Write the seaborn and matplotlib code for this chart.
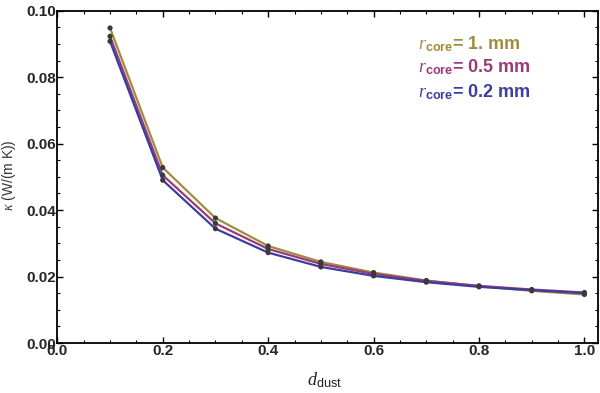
import numpy as np
import pandas as pd
import matplotlib
matplotlib.use("Agg")
import matplotlib.pyplot as plt
from matplotlib.ticker import MultipleLocator, FormatStrFormatter
import seaborn as sns

# ---- data ----
d_dust = [0.1, 0.2, 0.3, 0.4, 0.5, 0.6, 0.7, 0.8, 0.9, 1.0]
kappa_1mm = [0.0948, 0.0528, 0.0376, 0.0292, 0.0244, 0.0212, 0.0188, 0.0171, 0.0157, 0.0146]
kappa_05mm = [0.0923, 0.0505, 0.0360, 0.0283, 0.0238, 0.0208, 0.0187, 0.0172, 0.0161, 0.0152]
kappa_02mm = [0.0908, 0.0490, 0.0344, 0.0272, 0.0229, 0.0202, 0.0183, 0.0169, 0.0159, 0.0150]
series_labels = ["1. mm", "0.5 mm", "0.2 mm"]
series_colors = ["#A08C3E", "#9A3A7A", "#3D3D9E"]

df = pd.concat([
    pd.DataFrame({"d": d_dust, "k": kappa_1mm, "s": series_labels[0]}),
    pd.DataFrame({"d": d_dust, "k": kappa_05mm, "s": series_labels[1]}),
    pd.DataFrame({"d": d_dust, "k": kappa_02mm, "s": series_labels[2]}),
])

sns.set_theme(style="white")
plt.rcParams["font.family"] = ["Liberation Sans", "DejaVu Sans"]
plt.rcParams["mathtext.fontset"] = "custom"
plt.rcParams["mathtext.it"] = "Liberation Serif:italic"
plt.rcParams["mathtext.bf"] = "Liberation Sans:bold"
plt.rcParams["mathtext.rm"] = "Liberation Sans"

fig = plt.figure(figsize=(6.0, 3.93), dpi=100)
ax = fig.add_axes([0.0955, 0.1272, 0.9005, 0.8456])

sns.lineplot(data=df, x="d", y="k", hue="s", hue_order=series_labels,
             palette=series_colors, linewidth=1.6, legend=False, ax=ax,
             sort=True, estimator=None)
sns.scatterplot(data=df, x="d", y="k", color="#3a3a3a", s=14,
                edgecolor="none", legend=False, ax=ax, zorder=5)

ax.set_xlim(0, 1.025)
ax.set_ylim(0, 0.1)
ax.xaxis.set_major_locator(MultipleLocator(0.2))
ax.xaxis.set_minor_locator(MultipleLocator(0.05))
ax.yaxis.set_major_locator(MultipleLocator(0.02))
ax.yaxis.set_minor_locator(MultipleLocator(0.005))
ax.xaxis.set_major_formatter(FormatStrFormatter("%.1f"))
ax.yaxis.set_major_formatter(FormatStrFormatter("%.2f"))
ax.tick_params(which="both", direction="in", top=True, right=True,
               bottom=True, left=True, color="black")
ax.tick_params(which="major", length=4, width=1.0, labelsize=11, pad=1)
ax.tick_params(which="minor", length=2, width=0.8)
for lab in ax.get_xticklabels() + ax.get_yticklabels():
    lab.set_fontweight("bold")
for sp in ax.spines.values():
    sp.set_visible(True)
    sp.set_color("black")
    sp.set_linewidth(1.3)

ax.set_xlabel(r"$d_{\mathrm{dust}}$", fontsize=13, color="#222222")
ax.set_ylabel(r"$\kappa$ (W/(m K))", fontsize=10, color="#333333")
ax.xaxis.set_label_coords(0.495, -0.083)
ax.yaxis.set_label_coords(-0.072, 0.506)

ys = [0.0898, 0.0831, 0.0756]
for lab, col, yv in zip(series_labels, series_colors, ys):
    ax.text(0.685, yv, r"$r_{\mathbf{core}}$= " + lab,
            color=col, fontsize=13, fontweight="bold", va="center", ha="left")

fig.savefig("out.png", dpi=100)
